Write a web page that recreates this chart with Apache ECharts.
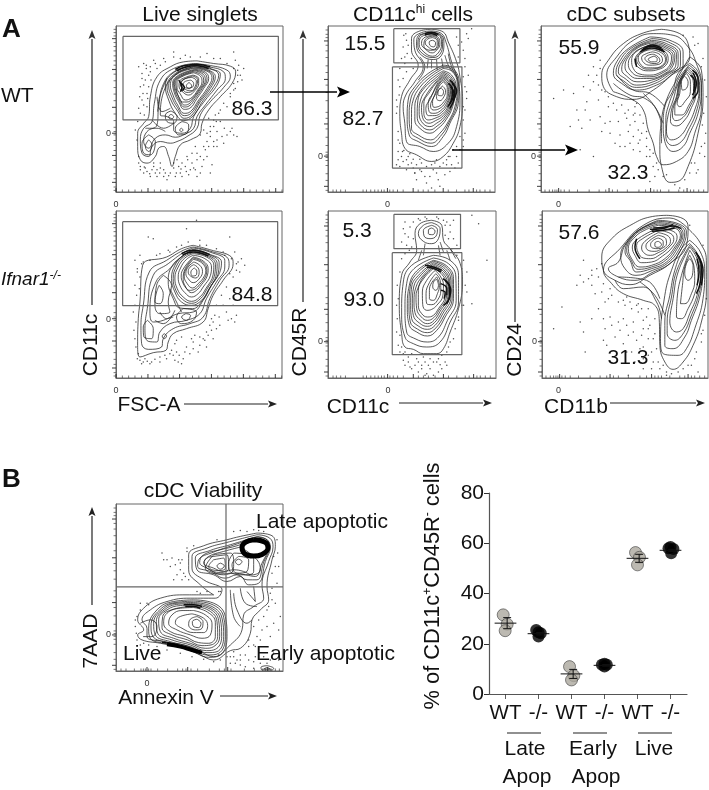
<!DOCTYPE html>
<html><head><meta charset="utf-8">
<style>html,body{margin:0;padding:0;background:#fff}#c{width:709px;height:790px}</style>
<script src="https://cdn.jsdelivr.net/npm/echarts@6/dist/echarts.min.js"></script></head>
<body><div id="c"></div>
<script>
// Contours (flat x,y lists in each panel's own units)
const liveWtContours=[
[590,182,640,190,690,198,706,215,695,250,660,290,625,330,605,370,600,400,570,420,540,435,525,470,515,500,505,470,490,440,475,445,465,470,440,490,420,480,412,440,412,400,430,370,445,350,450,290,470,230,510,200,550,185],
[580,190,630,196,680,210,690,228,670,262,630,305,600,345,590,385,560,410,530,425,510,430,480,425,455,440,445,470,425,460,420,420,430,385,455,365,462,310,480,240,520,205],
[575,195,625,200,670,215,675,235,650,270,615,315,590,350,580,385,555,402,525,412,495,405,465,415,445,445,430,425,440,395,470,375,475,320,490,250,525,212],
[580,200,630,207,660,222,650,255,615,300,580,350,570,385,545,400,520,390,520,365,500,350,480,345,490,275,530,220],
[580,196,628,204,655,226,640,260,608,302,578,348,550,362,525,340,505,300,495,258,522,216],
[580,200,625,210,645,230,630,265,600,305,575,345,552,355,530,330,512,300,500,260,525,220],
[582,203,622,211,640,231,625,265,598,302,572,340,552,347,531,322,515,292,505,257,528,221],
[581,205,620,213,635,232,620,265,595,300,570,335,552,340,532,315,518,285,510,255,530,222],
[583,208,615,216,625,235,610,265,590,295,568,325,552,328,535,305,522,278,517,250,535,225],
[583,210,612,219,620,237,605,266,585,295,566,318,552,321,536,300,524,274,520,249,538,226],
[583,212,608,222,615,240,600,268,580,295,565,312,552,315,538,295,526,270,522,248,540,228],
[581,215,604,225,610,242,596,269,578,293,560,306,546,306,534,288,528,266,526,246,544,228],
[580,218,600,228,605,245,592,270,575,292,555,300,540,282,530,262,530,245,548,228],
[578,225,595,235,595,250,583,272,565,285,550,278,536,258,538,243,555,232],
[577,228,592,238,590,254,578,272,560,277,546,266,540,250,550,238],
[575,232,588,242,585,258,572,272,555,268,542,255,545,243,560,234],
[572,240,580,250,575,262,560,264,548,255,553,245],
[566,247,574,257,566,266,558,257],
[512,343,520,350,512,358,505,350],
[512,333,530,350,520,370,500,365,495,345],
[545,365,565,375,560,400,535,405,525,385],
[543,385,548,390,543,395,538,390],
[445,420,455,435,445,455,435,440],
[445,405,465,425,450,465,430,460,425,430]];
const liveWtOpen=[[500,235,478,290,472,335],[470,290,485,335,510,325],[455,360,490,385,520,370],[435,385,470,385,495,395]];
const liveWtHeavy=[[525,208,550,197,590,192,630,200],[530,212,555,201,590,197,625,205],[535,240,545,262,540,275],[540,248,552,262,546,272]];

const hiWtContours=[
[395,87,430,95,445,125,470,185,480,230,488,300,480,380,460,430,430,470,395,485,350,465,315,445,305,400,300,340,305,290,330,240,355,195,335,150,335,115,360,92],
[395,92,425,100,438,125,455,185,472,235,480,300,470,380,445,430,400,455,360,440,320,425,315,370,310,320,318,285,345,245,370,200,345,150,342,118,365,97],
[395,96,425,105,432,130,425,165,400,178,365,165,350,135,352,112,370,100],
[396,98,422,106,428,131,420,162,399,172,368,160,354,134,357,112,372,101],
[397,100,420,108,425,132,415,158,398,168,372,155,358,132,362,112],
[397,105,416,112,420,132,410,150,397,158,378,148,365,130,372,113],
[398,108,414,116,416,134,405,149,391,150,372,136,378,115],
[398,112,412,120,412,135,400,148,385,140,376,128,384,116],
[398,120,407,127,402,140,390,135,388,125],
[430,195,460,205,478,250,475,310,450,370,430,410,395,440,355,425,328,405,322,350,325,300,345,260,385,220],
[430,200,459,210,475,252,470,315,447,368,425,405,393,430,355,415,332,395,328,345,332,300,352,261,390,224],
[430,205,458,215,472,255,465,320,445,365,420,400,392,420,355,405,335,385,335,340,340,300,360,262,395,228],
[430,212,455,225,468,260,458,320,438,360,415,385,390,400,360,385,345,360,345,320,355,285,380,250,405,228],
[430,216,453,230,465,262,455,319,435,356,412,378,390,390,362,375,352,348,354,302,370,268,408,233],
[430,220,452,235,462,265,452,318,432,352,410,370,390,380,365,365,358,335,362,300,385,262,410,238],
[430,224,451,240,458,267,449,316,430,347,407,362,387,370,368,352,365,322,376,290,412,241],
[430,228,450,245,455,270,446,315,428,342,405,355,385,360,372,340,372,310,390,275,412,245],
[430,232,448,248,452,272,443,312,425,337,403,347,386,347,378,325,392,295,414,248],
[430,235,446,252,450,275,440,310,422,332,402,340,388,335,385,310,400,278,415,252],
[430,240,444,257,446,280,436,308,418,326,400,330,392,318,403,288,416,255],
[430,245,442,262,442,285,432,305,415,320,402,322,398,305,408,280,418,258],
[428,258,437,272,432,290,420,302,410,295,413,275],
[424,264,431,274,425,287,414,284,415,272]];
const hiWtOpen=[[360,170,375,200,355,240],[395,180,395,205],[385,178,382,205],[410,178,412,210],[425,175,430,205],[445,160,455,200,470,230],[435,165,445,195,458,215]];
const hiWtHeavy=[[450,240,465,265,463,295,450,325],[445,250,458,270,455,300,443,320],[456,250,470,272,460,300],[452,260,462,280,450,310],[375,100,395,96,415,102],[375,104,395,100,412,106]];

const subWtContours=[
[1085,87,1140,100,1165,130,1170,170,1120,220,1060,270,1000,298,950,290,910,260,905,225,925,180,970,130,1030,98],
[1170,170,1205,210,1210,290,1195,400,1165,500,1135,545,1110,548,1085,500,1080,450,1085,360,1100,300,1130,240],
[940,275,1000,300,1030,330,1045,390,1060,430,1070,470,1090,495,1130,485,1165,455,1185,400,1205,320,1205,250,1190,190,1165,140,1120,105,1060,100,1000,120,950,170,920,225],
[1050,110,1110,120,1150,155,1150,195,1115,225,1070,255,1010,270,965,250,940,220,950,185,985,145],
[1055,115,1105,125,1142,158,1142,195,1110,222,1065,250,1010,262,970,242,948,218,958,185,992,145],
[1055,120,1100,130,1135,160,1135,195,1105,220,1060,245,1010,255,975,235,955,215,965,185,1000,145],
[1055,124,1097,134,1130,162,1128,195,1100,220,1055,240,1011,245,980,228,965,208,975,178,1008,143],
[1055,128,1095,138,1125,165,1120,195,1095,220,1050,235,1012,235,985,220,975,200,985,170,1015,142],
[1055,132,1092,141,1120,168,1115,195,1090,217,1050,230,1016,228,992,212,985,190,1000,160,1020,146],
[1055,135,1090,145,1115,170,1110,195,1085,215,1050,225,1020,222,1000,205,995,180,1015,150],
[1055,140,1090,150,1105,175,1098,195,1075,208,1045,212,1020,205,1005,185,1015,160],
[1055,144,1087,154,1100,176,1092,195,1070,205,1042,207,1020,197,1010,178,1022,158],
[1055,148,1085,158,1097,178,1088,195,1065,203,1040,203,1020,190,1015,172,1030,155],
[1058,155,1080,163,1088,180,1075,193,1050,195,1032,188,1025,172,1040,160],
[1060,162,1075,170,1080,182,1065,190,1045,186,1035,175,1045,165],
[1062,168,1072,175,1070,184,1055,185,1045,177],
[1170,190,1195,215,1205,270,1195,340,1170,400,1150,440,1120,455,1095,425,1090,375,1095,320,1120,270,1135,220],
[1168,195,1192,220,1200,270,1190,335,1166,390,1145,425,1118,437,1098,410,1098,360,1108,310,1128,260,1137,235],
[1165,200,1190,225,1198,270,1185,330,1162,380,1140,410,1115,420,1100,395,1105,345,1120,300,1135,250],
[1165,205,1188,240,1188,280,1172,330,1155,360,1130,378,1112,365,1115,330,1130,290,1140,240],
[1163,210,1184,240,1185,278,1168,325,1150,352,1128,362,1118,348,1120,325,1132,290,1141,243],
[1160,215,1180,240,1182,275,1165,320,1145,345,1125,345,1125,320,1135,290,1142,245],
[1160,220,1172,245,1172,275,1155,305,1140,320,1132,310,1140,280,1143,245],
[1155,228,1165,245,1160,265,1148,270,1145,245]];
const subWtOpen=[[940,250,990,285,1035,295,1075,340,1085,400,1085,430],[950,225,1000,270,1050,280,1095,320],[1030,280,1065,320,1090,370]];
const subWtHeavy=[[1025,150,1055,138,1090,150],[1020,155,1055,143,1095,155],[1030,147,1058,134,1085,143],[1005,175,1010,200],[1178,210,1195,235,1195,270,1180,295],[1172,225,1185,245,1182,275],[1180,218,1190,250,1178,285]];

const liveKoContours=[
[400,120,450,133,515,155,520,175,490,225,460,270,445,310,430,350,380,370,340,385,325,410,318,435,280,442,240,455,233,420,235,340,240,290,248,180,320,155,365,130],
[400,125,450,137,505,160,508,180,480,225,450,280,430,335,390,355,340,370,310,400,305,425,265,432,245,415,243,360,250,300,268,200,320,165,370,135],
[400,128,450,140,495,165,495,185,470,230,440,280,420,325,380,345,330,355,300,380,290,410,265,408,255,370,262,310,280,210,325,175,370,142],
[400,132,445,145,485,170,482,195,455,240,430,285,400,320,355,325,310,345,280,350,270,320,288,230,330,190,365,155],
[400,135,448,148,478,172,476,200,450,248,428,285,398,310,360,308,340,280,325,230,335,185,368,152],
[400,138,445,150,472,175,470,205,445,255,425,285,395,300,365,290,345,260,335,220,345,180,370,150],
[400,142,442,152,467,178,465,206,441,252,422,280,395,294,368,282,348,255,340,219,350,182,372,154],
[400,145,440,155,462,180,460,208,438,250,420,275,395,288,370,275,352,250,345,218,355,185,375,158],
[400,150,435,160,455,185,452,210,430,245,415,265,395,275,375,262,360,240,355,215,362,188,380,162],
[400,155,430,167,445,190,442,212,425,238,410,255,395,262,380,250,368,230,364,212,372,188],
[400,158,428,170,441,192,437,214,420,237,404,252,388,255,376,242,370,222,376,190],
[400,162,425,172,438,195,432,215,415,235,398,248,382,235,373,212,380,188],
[402,170,420,180,428,198,420,218,400,232,385,220,378,205,385,185],
[402,178,415,188,418,202,408,218,392,212,385,200,390,186],
[403,188,411,197,410,208,398,212,393,200],
[298,240,310,265,300,295,285,290,290,260],
[310,210,335,240,325,290,330,320,300,325,285,300,290,240],
[378,325,392,330,380,345,365,335],
[370,310,410,320,400,345,365,355,350,335],
[313,385,320,392,313,400,307,392],
[262,345,280,370,275,400,252,395,250,365]];
const liveKoOpen=[[285,345,310,355,345,315],[330,250,350,290,365,320],[300,320,320,340,340,335]];
const liveKoHeavy=[[365,145,400,135,450,148],[368,148,400,140,445,152]];

const hiKoContours=[
[425,45,455,60,460,105,480,130,510,175,517,230,505,310,480,380,460,430,440,445,400,445,370,432,345,425,335,385,328,300,335,210,360,170,380,135,375,85,390,55],
[425,52,450,70,445,100,425,115,400,108,385,85,400,60],
[425,60,442,72,438,92,420,100,402,92,400,75],
[425,68,435,77,428,88,415,85,415,74],
[430,150,480,165,505,210,505,290,480,350,450,410,410,425,370,415,345,395,335,320,340,230,365,180],
[430,158,475,175,497,215,498,285,472,345,445,395,412,410,375,400,350,380,345,310,350,235,372,190],
[430,165,470,182,490,220,490,280,465,335,440,375,412,392,380,380,358,360,352,305,358,240,380,197],
[430,168,468,186,486,222,486,278,462,330,437,368,412,382,382,371,361,350,357,303,361,243,385,200],
[430,172,465,190,482,225,482,275,458,325,435,360,412,372,385,362,365,340,362,300,365,245,390,205],
[430,176,462,194,478,228,477,275,454,322,433,352,412,363,388,353,370,330,367,295,371,245,394,208],
[430,180,460,198,475,230,473,275,450,318,432,345,412,355,392,345,375,322,372,290,378,245,398,212],
[432,184,458,203,471,232,469,275,447,314,431,337,412,345,394,335,380,310,378,272,384,248,400,215],
[432,188,456,208,468,235,465,275,445,310,430,330,412,335,395,325,385,300,385,255,402,218],
[435,195,452,215,460,240,458,272,440,300,425,312,410,315,398,298,397,260,410,225],
[437,205,450,225,452,255,442,285,425,298,410,295,408,265,418,232],
[440,215,448,240,442,265,430,285,418,280,418,255,425,232],
[440,222,445,240,437,255,428,245,430,230]];
const hiKoOpen=[[395,135,385,165],[480,130,497,160],[405,115,400,150],[450,110,460,140],[470,135,480,165],[445,120,450,150]];
const hiKoHeavy=[[458,220,478,245,478,275,460,300],[452,235,470,250,470,270],[465,225,482,255,470,295],[405,180,430,185,455,195],[410,186,432,190,452,200],[452,255,465,262,462,280]];

const subKoContours=[
[1130,30,1180,40,1195,65,1190,120,1140,175,1080,210,1020,238,975,225,940,195,935,155,965,100,1030,55,1080,35],
[1200,75,1230,110,1250,165,1250,260,1235,350,1210,420,1180,470,1150,492,1125,470,1110,420,1108,340,1095,300,1060,285,1000,265,965,235,940,195,990,130,1060,60,1140,38],
[1105,45,1165,55,1190,80,1175,130,1140,175,1090,200,1035,225,985,215,955,190,985,170,1005,120,1045,75],
[1105,48,1162,58,1185,82,1170,128,1135,172,1088,195,1038,210,1005,190,992,150,1015,105,1055,70],
[1105,52,1160,62,1180,85,1165,125,1130,170,1085,190,1040,200,1020,165,1005,140,1030,90,1065,65],
[1105,56,1157,65,1176,88,1160,125,1127,165,1085,185,1045,192,1022,162,1010,135,1032,92,1068,68],
[1105,60,1155,68,1172,90,1155,125,1125,160,1085,180,1050,185,1025,160,1015,130,1035,95,1070,72],
[1105,68,1150,78,1162,95,1148,125,1118,152,1085,170,1055,172,1035,150,1027,125,1045,100],
[1105,75,1143,85,1152,102,1138,125,1110,148,1082,160,1060,158,1045,142,1040,120,1058,100],
[1105,82,1135,92,1142,108,1128,128,1105,142,1082,150,1065,145,1055,128,1065,108],
[1105,90,1128,100,1130,115,1115,130,1095,138,1075,135,1068,122,1080,105],
[1105,98,1120,108,1120,120,1105,130,1088,128,1082,118,1090,105],
[1105,108,1115,117,1105,126,1095,122,1095,113],
[1200,105,1232,140,1245,200,1240,280,1215,370,1190,430,1165,450,1120,445,1112,400,1125,270,1145,195,1175,130],
[1200,115,1225,150,1238,210,1230,275,1205,345,1185,395,1150,430,1125,420,1125,350,1140,270,1155,195,1180,135],
[1200,120,1224,155,1235,210,1226,272,1203,335,1182,382,1155,405,1132,385,1132,350,1145,275,1160,198],
[1200,125,1222,160,1232,210,1222,270,1200,325,1180,370,1160,380,1140,350,1150,280,1165,200],
[1200,135,1218,170,1225,215,1215,265,1195,310,1175,340,1160,335,1162,280,1175,210],
[1200,150,1213,185,1215,225,1205,265,1185,295,1172,295,1178,240,1185,185],
[1200,160,1210,180,1208,210,1195,225,1185,205,1190,175]];
const subKoOpen=[[975,225,1000,250,1060,245,1100,290,1115,340],[985,215,1070,225,1110,280],[1050,230,1095,270,1125,330]];
const subKoHeavy=[[1080,72,1115,70,1150,62,1175,70],[1085,78,1120,75,1155,68],[1090,68,1120,66,1150,58],[1040,100,1035,125,1050,160],[1218,140,1235,185,1232,230,1220,265],[1222,160,1228,200,1222,240],[1225,150,1240,195,1235,240]];

const viabilityContours=[
[770,220,815,228,825,260,815,300,800,380,805,420,780,450,755,480,750,520,720,565,690,572,640,600,600,585,550,565,480,550,425,540,412,525,430,510,412,480,430,445,480,415,560,405,640,405,600,375,565,330,565,285,610,258,680,240,720,230],
[770,225,808,235,818,262,805,305,785,375,790,415,760,440,730,465,725,510,690,555,640,590,600,575,550,555,490,545,440,530,440,505,425,480,450,450,500,425,570,415,645,415,665,390,610,360,575,325,575,290,620,265,680,248],
[770,230,800,240,810,262,795,305,775,370,745,375,720,350,680,365,640,345,590,330,585,295,630,272,690,255],
[770,232,803,243,806,264,790,307,770,360,740,360,710,345,675,355,630,335,592,320,595,300,640,277,700,256],
[770,236,795,245,802,265,785,310,765,350,735,345,700,340,670,345,620,325,598,308,610,285,660,270,710,258],
[720,262,770,300,780,330,755,345,730,335,700,330,670,335,640,325,610,310,625,290,670,275],
[640,285,690,280,700,310,690,340,650,342,615,325],
[700,280,760,295,760,335,730,345,695,340,685,310],
[625,292,680,285,685,325,660,338,620,325,612,305],
[640,300,670,295,675,325,650,332,625,320],
[660,310,672,318,660,328,650,318],
[715,290,745,300,740,335,710,340,695,315],
[715,298,725,305,715,315,705,305],
[580,420,640,430,675,470,680,530,660,585,625,592,570,570,500,552,450,535,445,505,470,450,520,425],
[580,424,638,435,670,472,675,530,655,580,622,585,570,565,505,548,458,530,452,498,478,450,525,428],
[580,428,635,440,665,475,670,530,650,575,620,578,570,560,510,545,465,525,460,490,485,450,530,430],
[580,431,632,444,660,478,664,530,645,568,618,572,570,555,515,540,472,520,468,485,492,450,535,433],
[580,435,630,448,655,482,658,530,640,560,615,565,570,550,520,535,480,515,475,480,500,450,540,437],
[580,439,626,452,650,485,652,530,632,555,605,557,562,540,515,525,485,503,487,470,520,448],
[580,443,622,457,645,488,645,530,625,550,595,548,555,530,510,515,490,490,500,460,540,445],
[580,452,615,465,635,492,630,525,605,535,570,525,530,510,505,490,515,465,545,452],
[575,462,610,475,622,497,610,518,580,518,545,505,525,488,535,472],
[590,470,608,485,605,505,585,510,565,495,570,478],
[590,478,602,490,595,503,578,498,576,485],
[800,617,820,625,815,630,785,630,782,622],
[800,622,810,627,790,627]];
const viabilityOpen=[[700,400,710,450,740,490,755,480],[690,390,700,470,720,500],[740,395,765,425,760,380],[720,385,735,430,770,440],[420,490,450,480,470,500,455,530,428,530]];
const viabilityHeavy=[[550,435,580,435,605,440],[555,440,580,440,600,445],[485,548,520,552,555,562]];
const viabilityBold=[[500,553,540,560,575,570,605,578],[760,240,795,248,803,265,785,284,760,289,733,282,725,262,736,247,760,240]];

// Gates
const liveWtGate=[368,108,834,108,834,360,368,360,368,108];
const hiWtGates=[[282,85,480,85,480,188,282,188,282,85],[278,200,486,200,486,505,278,505,278,200]];
const liveKoGate=[188,49,654,49,654,301,188,301,188,49];
const hiKoGates=[[312,27,511,27,511,130,312,130,312,27],[307,142,515,142,515,448,307,448,307,142]];
const viabilityGates=[[677,133,677,633],[347,381,848,381]];

// Background events
const liveWtDots=[430,190,460,180,520,155,555,165,620,160,700,155,660,175,715,195,730,205,725,240,700,270,690,290,645,345,625,355,640,380,660,365,630,410,650,420,610,440,680,405,710,410,620,470,590,460,560,470,555,500,540,520,510,520,490,510,470,530,440,515,420,510,415,490,460,500,500,540,530,480,575,490,600,520,630,520,425,220,415,200,435,240,420,260,445,260,425,300,440,320,420,340,405,390,410,420,465,190,480,195,490,175,680,320,660,330,610,390,585,440,600,405,650,395,695,385,630,380,605,500,520,505,535,500,545,490,480,490,455,510,438,205,450,215,428,280,442,295,432,345,412,365,620,425,640,440,665,410,672,385,648,365,575,460,562,480,528,520,505,528,490,530,478,520,448,522,432,502,542,508,558,515,585,510,700,250,712,225,705,180,
425,235,430,255,418,290,430,315,415,325,440,280,452,240,445,225,438,195,450,200,470,205,495,185,520,170,540,175,570,170,600,170,640,175,680,190,700,205,712,210,720,225,712,245,705,265,690,280,670,310,655,340,640,360,630,395,620,400,640,425,615,450,625,440,600,470,580,505,565,525,545,530,525,530,495,520,480,505,465,520,450,530,430,520,415,470,420,500,435,505,470,510,460,490,610,480,590,480,570,510,520,490,590,530,635,495,650,440,670,430,690,395,700,405];
const hiWtDots=[312,105,320,120,310,140,322,160,305,175,315,190,335,175,500,100,515,85,470,110,475,135,490,150,495,200,505,225,495,260,500,295,495,330,490,360,480,410,470,440,460,450,445,470,470,470,490,440,300,430,295,455,305,470,320,480,335,490,350,495,380,500,420,500,455,495,320,510,345,520,365,515,390,530,410,520,435,525,350,540,380,550,420,560,450,515,295,480,290,340,290,300,300,260,320,215,340,205,345,520,300,500,475,490,440,480,405,490,360,478,330,462,312,452,
318,100,325,135,315,170,300,205,310,235,295,240,298,285,292,320,295,395,295,420,308,455,325,470,340,478,365,490,395,495,410,480,430,490,450,470,480,450,490,420,495,400,490,320,500,275,490,230,475,170,495,175,485,125,505,115,290,495,310,485,325,495,340,505,360,510,375,530,400,510,415,540,440,495,465,505,395,565];
const subWtDots=[900,180,880,200,865,225,850,260,820,280,790,270,760,295,830,330,860,305,895,300,925,320,950,330,985,330,1005,320,1020,345,1030,370,1005,365,980,355,955,365,930,365,900,350,870,360,845,385,810,380,985,395,960,405,1000,410,1020,420,1040,440,1020,455,1000,450,975,440,1050,470,1060,500,1035,500,1065,530,1090,530,1155,540,1190,520,1215,470,1205,440,1218,400,1175,490,1140,565,1050,545,880,470,840,450,905,395,945,430,1040,415,1015,390,1000,345,965,315,915,275,895,255,880,245,1010,310,1180,110,1195,130,1210,175,
1000,300,1005,340,1025,400,1040,395,1050,450,1040,470,1060,460,1070,490,1075,510,1100,525,1125,555,1170,520,1185,490,1200,460,1195,510,1215,430,1208,375,1212,340,1220,290,1215,240,1205,200,1185,135,1150,105,900,205,890,225,870,270,905,270,925,290,940,310,975,340,990,375,1015,430,990,430,960,440,930,400,915,370,855,330,835,360];
const liveKoDots=[240,150,225,165,265,95,280,100,380,70,410,45,420,105,510,95,525,140,545,160,555,180,530,195,520,215,500,245,485,270,470,300,465,330,500,320,515,340,525,350,450,360,470,370,440,380,420,395,400,410,380,425,440,425,350,440,370,460,340,450,300,470,270,475,240,465,235,445,225,400,228,350,225,300,238,250,240,215,232,190,250,170,290,150,325,135,350,125,385,110,470,130,490,140,535,170,510,205,455,340,435,405,405,390,365,395,345,415,330,445,315,450,285,462,255,460,245,475,262,468,415,440,390,445,
232,200,225,240,230,270,220,320,222,375,228,425,232,460,250,470,275,470,300,455,320,460,345,465,358,450,375,440,400,430,420,420,430,400,445,390,455,375,460,350,478,335,490,300,510,280,525,255,540,200,530,175,515,160,495,150,440,120,420,120,365,120,330,140,300,145,270,165,245,175,355,470,365,475,335,435,350,405,395,400,460,400,505,345,530,330,520,300,480,360];
const hiKoDots=[340,70,345,85,355,95,335,110,350,120,365,125,370,50,385,40,405,35,445,40,470,50,490,45,545,30,565,55,480,80,490,100,465,90,500,120,520,165,530,200,525,240,520,300,545,295,590,165,505,335,495,370,480,410,470,440,445,460,465,470,430,470,405,470,380,460,355,455,340,465,345,480,375,480,395,490,410,505,430,510,455,490,470,480,330,440,325,420,320,380,322,340,325,280,345,440,365,445,415,480,445,500,400,455,
345,50,360,65,370,100,358,135,345,145,335,160,330,200,322,240,320,300,330,390,335,425,340,445,355,470,365,490,385,470,395,480,420,460,440,470,455,450,475,425,490,400,505,345,515,300,530,260,515,190,500,150,485,130,475,100,465,60,440,35,410,40,390,45,480,60,460,45,405,510,420,490,385,500,450,478,420,520,360,485];
const subKoDots=[935,175,920,190,905,210,880,230,860,240,905,240,880,165,790,370,815,305,870,350,880,380,905,340,925,310,945,290,965,270,985,290,1005,300,1025,310,1045,320,1060,345,1075,370,1090,400,1075,400,1055,390,1030,380,1010,360,985,350,960,335,940,405,950,420,975,395,1000,415,1025,440,1050,430,1075,450,1090,470,1110,490,1130,500,1180,490,1205,480,1220,440,1235,410,885,440,940,340,915,265,940,235,960,250,1010,275,1045,295,1075,310,1095,340,1060,460,1015,510,1225,500,1240,375,
1000,285,1020,290,1040,300,1055,310,1070,335,1080,360,1095,385,1100,430,1085,440,1060,425,1040,405,1015,390,990,375,965,360,945,370,1010,440,1035,470,1060,490,1085,490,1105,470,1120,480,1145,505,1165,500,1195,480,1215,460,1235,385,1245,330,1250,280,925,215,905,195,895,220,870,210,935,260,955,280,1000,340,1030,350,1060,370,1130,510,1240,120,1200,60];
const viabilityDots=[485,280,490,300,515,295,525,315,540,330,530,345,555,350,565,360,545,300,560,275,760,210,720,212,790,215,820,290,835,320,815,340,810,400,825,430,805,440,790,470,800,500,820,490,835,510,810,530,780,540,760,500,745,540,765,590,745,600,720,600,705,610,700,590,735,620,780,610,810,600,760,625,445,435,420,450,410,470,405,500,410,540,430,550,445,555,590,395,620,395,655,395,655,585,680,590,700,575,760,555,
500,300,510,320,535,300,540,310,550,340,545,360,520,360,560,265,580,258,650,240,700,215,740,215,775,212,830,240,832,280,825,320,830,370,815,385,815,420,800,450,775,480,785,510,770,530,765,560,745,560,735,585,720,585,710,600,690,590,690,610,720,615,760,605,790,590,820,580,835,600,800,610,840,470,420,430,440,430,405,480,408,520,420,555,470,560,500,570,540,580,575,590,610,598,640,605,660,600,660,395,600,400];

// Axis ticks, offset from the panel's left or top edge
const yTicksLinear={major:[38,131,245,323,390,471],minor:[10,20,30,50,62,75,90,105,118,145,165,185,205,225,265,285,305,318,328,345,360,375,405,425,445,460,485,495]};
const yTicksBiexp={major:[45,161,295,392,483],minor:[12,25,35,58,75,95,120,140,178,200,225,260,278,310,335,360,380,388,396,405,420,445,465,495]};
const xTicksLinear={major:[0,96,191,287,383,479],minor:[19,38,57,77,115,134,153,172,210,230,249,268,306,325,344,364,402,421,441,460,498]};
const xTicksCd11c={major:[178,255,345,435],minor:[15,25,38,52,105,115,128,140,150,160,168,185,195,208,225,270,285,300,320,360,385,410,422,445,455,470,485]};
const xTicksSub={major:[53,205,330,440],minor:[12,25,35,42,48,60,70,85,110,145,175,195,215,230,260,295,315,340,350,360,385,415,430,450,460,475,490]};
const xTicksViability={major:[93,215,335,455],minor:[15,30,55,75,82,88,98,105,125,155,185,200,210,225,245,280,310,325,345,385,415,440,448,465,478,490]};

// Summary plot
const groupLabels=['WT','-/-','WT','-/-','WT','-/-'];
const groupPositions=[.5,1.5,2.5,3.5,4.5,5.5];
const percentTicks=[0,20,40,60,80];
const wtValues=[[0.43,31.5],[0.55,27.8],[0.49,25.2],[2.44,10.9],[2.57,7.3],[2.5,5.6],[4.44,56.3],[4.56,54.4],[4.5,51.4]];
const koValues=[[1.43,25.5],[1.57,24.2],[1.5,22.9],[1.5,24.6],[3.42,11.6],[3.57,11.6],[3.5,10.9],[3.5,12],[5.44,58],[5.59,57.7],[5.52,56],[5.5,58.5]];
const groupMeans=[28.2,24,8,11.4,54,57.2];
const groupErrors=[2.2,0.5,1.8,0.3,1.6,0.4];

const font='"Liberation Sans"';
const ink='#111';
const pairs=f=>{const r=[];for(let i=0;i<f.length;i+=2)r.push([f[i],f[i+1]]);return r};

const panels=[
 {l:116,t:26,w:167,h:166,x:[347,848],y:[77,577],cs:liveWtContours,open:liveWtOpen,heavy:liveWtHeavy,gates:[liveWtGate],dots:liveWtDots,xt:xTicksLinear,yt:yTicksLinear,x0:0,y0:323},
 {l:328,t:26,w:167,h:166,x:[85,585],y:[77,577],cs:hiWtContours,open:hiWtOpen,heavy:hiWtHeavy,gates:hiWtGates,dots:hiWtDots,xt:xTicksCd11c,yt:yTicksBiexp,x0:178,y0:392},
 {l:541,t:26,w:167,h:166,x:[722,1225],y:[77,577],cs:subWtContours,open:subWtOpen,heavy:subWtHeavy,gates:[],dots:subWtDots,xt:xTicksSub,yt:yTicksBiexp,x0:53,y0:392},
 {l:116,t:211,w:166,h:167,x:[168,667],y:[17,518],cs:liveKoContours,open:liveKoOpen,heavy:liveKoHeavy,gates:[liveKoGate],dots:liveKoDots,xt:xTicksLinear,yt:yTicksLinear,x0:0,y0:325},
 {l:328,t:211,w:168,h:167,x:[115,617],y:[17,518],cs:hiKoContours,open:hiKoOpen,heavy:hiKoHeavy,gates:hiKoGates,dots:hiKoDots,xt:xTicksCd11c,yt:yTicksBiexp,x0:179,y0:393},
 {l:542,t:211,w:166,h:167,x:[755,1255],y:[17,518],cs:subKoContours,open:subKoOpen,heavy:subKoHeavy,gates:[],dots:subKoDots,xt:xTicksSub,yt:yTicksBiexp,x0:50,y0:393},
 {l:116,t:504,w:167,h:167,x:[347,848],y:[133,633],cs:viabilityContours,open:viabilityOpen,heavy:viabilityHeavy,bold:viabilityBold,gates:viabilityGates,dots:viabilityDots,xt:xTicksViability,yt:yTicksBiexp,x0:93,y0:392}
];

const grid=[],xAxis=[],yAxis=[],series=[];
// tick marks drawn through each panel's own axes
const tickMarks=(xi,yi,data,size,offset,color)=>series.push({type:'scatter',xAxisIndex:xi,yAxisIndex:yi,symbol:'rect',symbolSize:size,symbolOffset:offset,clip:false,silent:true,itemStyle:{color:color},data:data,z:6});
panels.forEach((p,i)=>{
 grid.push({left:p.l,top:p.t,width:p.w,height:p.h,show:true,borderColor:'#666',borderWidth:1,backgroundColor:'transparent'});
 const axisBase={type:'value',gridIndex:i,splitLine:{show:false},axisTick:{show:false},axisLine:{show:true,onZero:false,lineStyle:{color:'#666',width:1}}};
 const xs=v=>p.x[0]+v, ys=v=>p.y[0]+v;
 xAxis.push({...axisBase,min:p.x[0],max:p.x[1],position:'bottom',
   axisLabel:{show:true,customValues:[xs(p.x0)],formatter:()=>'0',fontFamily:font,fontSize:9,color:'#333',margin:8,hideOverlap:false}});
 yAxis.push({...axisBase,inverse:true,min:p.y[0],max:p.y[1],position:'left',
   axisLabel:{show:true,customValues:[ys(p.y0)],formatter:()=>'0',fontFamily:font,fontSize:9,color:'#333',margin:5,hideOverlap:false}});
 const xi=i, yi=i;
 tickMarks(xi,yi,p.xt.minor.map(v=>[xs(v),p.y[1]]),[.9,2.5],[0,-1.2],'#444');
 tickMarks(xi,yi,p.xt.major.map(v=>[xs(v),p.y[1]]),[1.1,4],[0,-2],'#222');
 tickMarks(xi,yi,p.yt.minor.map(v=>[p.x[0],ys(v)]),[2.5,.9],[-1.2,0],'#444');
 tickMarks(xi,yi,p.yt.major.map(v=>[p.x[0],ys(v)]),[4,1.1],[-2,0],'#222');
 series.push({type:'scatter',xAxisIndex:xi,yAxisIndex:yi,symbolSize:1.5,silent:true,itemStyle:{color:'#222'},data:pairs(p.dots),z:1});
 const line=(flat,width,color,smooth,z)=>series.push({type:'line',xAxisIndex:xi,yAxisIndex:yi,data:pairs(flat),showSymbol:false,silent:true,smooth:smooth,clip:true,lineStyle:{width:width,color:color},z:z});
 p.gates.forEach(g=>line(g,1.2,'#666',false,3));
 p.cs.forEach(c=>line(c.concat(c.slice(0,2)),.75,'#222',.45,2));
 (p.open||[]).forEach(c=>line(c,.75,'#222',.45,2));
 (p.heavy||[]).forEach(c=>line(c,1.5,'#111',.45,2));
 (p.bold||[]).forEach((c,k)=>line(c,k?5:4,'#000',.45,2));
});

// Summary plot axes
grid.push({left:489,top:493,width:198,height:201});
xAxis.push({type:'value',gridIndex:7,min:0,max:6,splitLine:{show:false},
  axisLine:{lineStyle:{color:'#555',width:1.2}},
  axisTick:{show:false},
  axisLabel:{customValues:groupPositions,formatter:v=>groupLabels[Math.floor(v)],fontFamily:font,fontSize:20.5,color:ink,margin:9,hideOverlap:false}});
yAxis.push({type:'value',gridIndex:7,min:0,max:80,interval:20,splitLine:{show:false},
  axisLine:{show:true,lineStyle:{color:'#555',width:1.2}},
  axisTick:{show:true,length:5,lineStyle:{color:'#333',width:1}},
  axisLabel:{fontFamily:font,fontSize:21,color:ink,margin:5,formatter:v=>percentTicks.includes(v)?String(v):''}});
tickMarks(7,7,groupPositions.map(v=>[v,0]),[1,5],[0,2.5],'#333');
series.push({type:'scatter',xAxisIndex:7,yAxisIndex:7,symbolSize:12,data:wtValues,itemStyle:{color:'#aba79d',borderColor:'#444',borderWidth:.8},z:3});
series.push({type:'scatter',xAxisIndex:7,yAxisIndex:7,symbolSize:12,data:koValues,itemStyle:{color:'#000'},z:3});
groupMeans.forEach((m,i)=>{
 const c=i+.5, e=groupErrors[i], seg=(d)=>series.push({type:'line',xAxisIndex:7,yAxisIndex:7,data:d,showSymbol:false,lineStyle:{color:'#111',width:1},z:5});
 seg([[c-.33,m],[c+.33,m]]);
 seg([[c+.05,m-e],[c+.05,m+e]]);
 seg([[c-.07,m-e],[c+.17,m-e]]);
 seg([[c-.07,m+e],[c+.17,m+e]]);
});

// Text and arrows
const g=[];
const T=(text,x,y,o={})=>g.push({type:'text',x:x,y:y,rotation:o.rot||0,z:20,silent:true,style:{text:text,fontFamily:font,fontSize:o.s||21,fontWeight:o.w||'normal',fontStyle:o.i||'normal',fill:ink,align:o.a||'center',verticalAlign:'middle',rich:o.rich}});
const arrow=(x1,y1,x2,y2,len,hw,w,col)=>{
 const dx=x2-x1,dy=y2-y1,d=Math.hypot(dx,dy),ux=dx/d,uy=dy/d,bx=x2-ux*len,by=y2-uy*len;
 g.push({type:'line',z:19,silent:true,shape:{x1,y1,x2:bx,y2:by},style:{stroke:col,lineWidth:w}});
 g.push({type:'polygon',z:19,silent:true,shape:{points:[[x2,y2],[bx-uy*hw,by+ux*hw],[bx+ux*len*.22,by+uy*len*.22],[bx+uy*hw,by-ux*hw]]},style:{fill:col}});
};
T('A',2,30,{a:'left',s:26,w:'bold'}); T('B',2,480,{a:'left',s:26,w:'bold'});
T('WT',1,96,{a:'left'});
T('{i|Ifnar1}{s|-/-}',1,280,{a:'left',rich:{i:{fontFamily:font,fontStyle:'italic',fontSize:19,fill:ink},s:{fontFamily:font,fontStyle:'italic',fontSize:12,fill:ink,padding:[0,0,8,0]}}});
T('Live singlets',200,15);
T('{a|CD11c}{s|hi}{a| cells}',413,15,{rich:{a:{fontFamily:font,fontSize:21,fill:ink},s:{fontFamily:font,fontSize:12,fill:ink,padding:[0,0,10,0]}}});
T('cDC subsets',626,15);
T('cDC Viability',203,491);
[['86.3',252,109],['15.5',365,44],['82.7',363,119],['55.9',579,48],['32.3',628,173],['84.8',252,295],['5.3',357,231],['93.0',364,300],['57.6',579,233],['31.3',628,358]].forEach(n=>T(n[0],n[1],n[2]));
T('Late apoptotic',256,522,{a:'left'}); T('Early apoptotic',256,654,{a:'left'}); T('Live',123,654,{a:'left'});
const R=Math.PI/2;
T('CD11c',91,345,{rot:R}); T('CD45R',300,342,{rot:R}); T('CD24',515,350,{rot:R}); T('7AAD',91,641,{rot:R});
T('FSC-A',149,405); T('CD11c',358,407); T('CD11b',576,407); T('Annexin V',166,698);
T('{a|% of CD11c}{s|+}{a|CD45R}{s|-}{a| cells}',433,586,{rot:R,rich:{a:{fontFamily:font,fontSize:21.8,fill:ink},s:{fontFamily:font,fontSize:12,fill:ink,padding:[0,0,10,0]}}});
T('Late',525,749); T('Apop',527,777); T('Early',593,749); T('Apop',596,777); T('Live',654,749);
[[507,541],[573,607],[638,672]].forEach(s=>g.push({type:'line',z:19,silent:true,shape:{x1:s[0],y1:733,x2:s[1],y2:733},style:{stroke:'#222',lineWidth:1.2}}));
// axis arrows
arrow(92,305,92,30,9,3.5,1.3,'#333'); arrow(303,302,303,30,9,3.5,1.3,'#333'); arrow(515,322,515,30,9,3.5,1.3,'#333');
arrow(184,404,277,404,9,3.5,1.2,'#222'); arrow(399,403,492,403,9,3.5,1.2,'#222'); arrow(610,403,705,403,9,3.5,1.2,'#222');
arrow(92,605,92,507,9,3.5,1.2,'#222'); arrow(220,696,277,696,9,3.5,1.2,'#222');
// gate arrows
arrow(270,92,350,92,13,5.5,1.5,'#000'); arrow(452,150,578,150,13,5.5,1.5,'#000');

const chart=echarts.init(document.getElementById('c'),null,{renderer:'canvas'});
chart.setOption({animation:false,backgroundColor:'#fff',grid,xAxis,yAxis,series,graphic:{elements:g}});
</script></body></html>
